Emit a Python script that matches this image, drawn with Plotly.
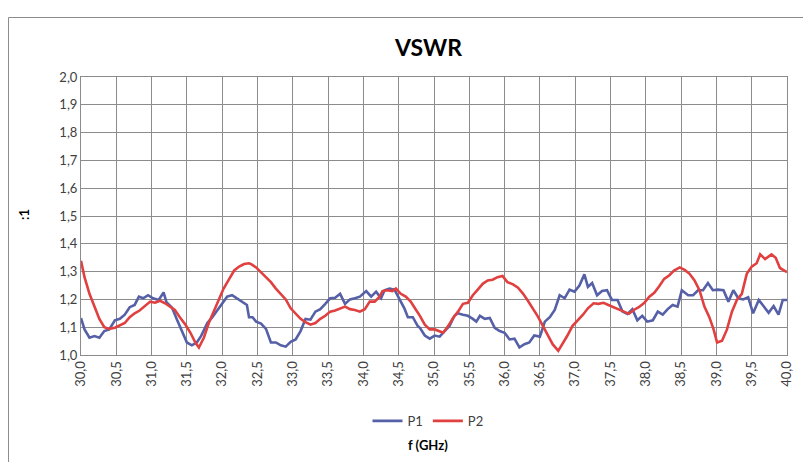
import plotly.graph_objects as go

# ---- data ----
freq_p1 = [30.00, 30.05, 30.12, 30.19, 30.26, 30.33, 30.40, 30.48, 30.55, 30.62, 30.69, 30.76, 30.82, 30.88,
           30.95, 31.02, 31.10, 31.17, 31.21, 31.29, 31.36, 31.43, 31.50, 31.57, 31.64, 31.70, 31.79, 31.86,
           31.93, 32.00, 32.07, 32.14, 32.21, 32.29, 32.35, 32.38, 32.43, 32.48, 32.55, 32.62, 32.69, 32.76,
           32.83, 32.90, 32.97, 33.04, 33.11, 33.18, 33.25, 33.32, 33.39, 33.46, 33.53, 33.60, 33.67, 33.74,
           33.81, 33.88, 33.95, 34.04, 34.11, 34.18, 34.25, 34.30, 34.37, 34.44, 34.51, 34.58, 34.63, 34.70,
           34.77, 34.80, 34.87, 34.94, 35.01, 35.08, 35.15, 35.22, 35.29, 35.34, 35.41, 35.48, 35.55, 35.60,
           35.65, 35.72, 35.79, 35.86, 35.93, 36.00, 36.07, 36.14, 36.21, 36.28, 36.35, 36.42, 36.50, 36.57,
           36.64, 36.71, 36.78, 36.85, 36.92, 36.99, 37.06, 37.13, 37.18, 37.24, 37.31, 37.38, 37.45, 37.52,
           37.60, 37.67, 37.74, 37.81, 37.88, 37.95, 38.02, 38.10, 38.17, 38.24, 38.31, 38.38, 38.45, 38.51,
           38.60, 38.67, 38.74, 38.81, 38.88, 38.95, 39.02, 39.10, 39.17, 39.24, 39.31, 39.38, 39.45, 39.52,
           39.60, 39.67, 39.74, 39.81, 39.88, 39.94, 40.00]
vswr_p1 = [1.133, 1.092, 1.062, 1.068, 1.062, 1.086, 1.092, 1.125, 1.130, 1.145, 1.172, 1.180, 1.210, 1.204,
           1.215, 1.204, 1.198, 1.225, 1.190, 1.170, 1.127, 1.086, 1.045, 1.035, 1.045, 1.068, 1.115, 1.136,
           1.162, 1.188, 1.210, 1.215, 1.204, 1.190, 1.180, 1.136, 1.136, 1.120, 1.113, 1.094, 1.045, 1.045,
           1.035, 1.030, 1.047, 1.056, 1.086, 1.130, 1.127, 1.156, 1.165, 1.184, 1.204, 1.206, 1.220, 1.184,
           1.200, 1.204, 1.210, 1.230, 1.210, 1.228, 1.204, 1.233, 1.239, 1.235, 1.204, 1.168, 1.136, 1.136,
           1.104, 1.098, 1.070, 1.059, 1.070, 1.066, 1.086, 1.104, 1.141, 1.150, 1.145, 1.141, 1.130, 1.120,
           1.141, 1.130, 1.133, 1.098, 1.086, 1.080, 1.056, 1.059, 1.027, 1.039, 1.045, 1.070, 1.066, 1.120,
           1.136, 1.162, 1.215, 1.204, 1.235, 1.228, 1.250, 1.290, 1.245, 1.259, 1.215, 1.230, 1.233, 1.198,
           1.198, 1.156, 1.148, 1.165, 1.125, 1.141, 1.120, 1.125, 1.156, 1.145, 1.165, 1.180, 1.174, 1.233,
           1.215, 1.215, 1.233, 1.233, 1.259, 1.233, 1.235, 1.233, 1.192, 1.233, 1.204, 1.200, 1.208, 1.150,
           1.198, 1.174, 1.152, 1.176, 1.145, 1.198, 1.198]

freq_p2 = [30.00, 30.05, 30.12, 30.19, 30.26, 30.33, 30.40, 30.48, 30.55, 30.62, 30.69, 30.76, 30.83, 30.90,
           30.98, 31.05, 31.12, 31.19, 31.26, 31.33, 31.40, 31.48, 31.55, 31.62, 31.67, 31.74, 31.81, 31.88,
           31.95, 32.02, 32.10, 32.17, 32.24, 32.31, 32.38, 32.41, 32.48, 32.55, 32.62, 32.69, 32.76, 32.83,
           32.90, 32.97, 33.04, 33.11, 33.18, 33.25, 33.32, 33.39, 33.46, 33.53, 33.60, 33.67, 33.74, 33.81,
           33.88, 33.95, 34.02, 34.09, 34.16, 34.23, 34.27, 34.34, 34.41, 34.46, 34.53, 34.60, 34.67, 34.73,
           34.80, 34.87, 34.94, 35.01, 35.08, 35.13, 35.20, 35.27, 35.34, 35.41, 35.48, 35.55, 35.62, 35.69,
           35.76, 35.83, 35.90, 35.97, 36.04, 36.12, 36.19, 36.26, 36.33, 36.40, 36.47, 36.54, 36.61, 36.68,
           36.76, 36.82, 36.89, 36.96, 37.04, 37.11, 37.18, 37.26, 37.33, 37.40, 37.47, 37.55, 37.62, 37.69,
           37.76, 37.83, 37.90, 37.98, 38.05, 38.12, 38.19, 38.26, 38.33, 38.40, 38.48, 38.55, 38.62, 38.69,
           38.76, 38.83, 38.90, 38.96, 39.01, 39.08, 39.15, 39.22, 39.29, 39.36, 39.43, 39.50, 39.57, 39.62,
           39.69, 39.78, 39.84, 39.90, 40.00]
vswr_p2 = [1.339, 1.280, 1.220, 1.174, 1.130, 1.100, 1.094, 1.098, 1.106, 1.115, 1.136, 1.150, 1.160, 1.176,
           1.192, 1.188, 1.195, 1.186, 1.174, 1.162, 1.136, 1.109, 1.080, 1.045, 1.027, 1.062, 1.115, 1.156,
           1.198, 1.239, 1.274, 1.304, 1.318, 1.327, 1.330, 1.327, 1.315, 1.298, 1.280, 1.262, 1.239, 1.220,
           1.200, 1.168, 1.150, 1.130, 1.118, 1.109, 1.115, 1.130, 1.141, 1.156, 1.160, 1.168, 1.174, 1.165,
           1.162, 1.156, 1.165, 1.192, 1.192, 1.210, 1.230, 1.233, 1.230, 1.239, 1.220, 1.210, 1.192, 1.168,
           1.141, 1.109, 1.092, 1.092, 1.086, 1.080, 1.104, 1.133, 1.156, 1.184, 1.188, 1.215, 1.235, 1.256,
           1.268, 1.271, 1.280, 1.284, 1.262, 1.254, 1.242, 1.221, 1.195, 1.168, 1.139, 1.106, 1.070, 1.039,
           1.015, 1.039, 1.070, 1.104, 1.125, 1.145, 1.168, 1.186, 1.184, 1.188, 1.180, 1.172, 1.165, 1.156,
           1.148, 1.162, 1.172, 1.188, 1.210, 1.224, 1.247, 1.274, 1.286, 1.304, 1.315, 1.306, 1.292, 1.268,
           1.233, 1.174, 1.136, 1.092, 1.045, 1.051, 1.092, 1.156, 1.198, 1.220, 1.292, 1.318, 1.330, 1.362,
           1.345, 1.362, 1.350, 1.313, 1.298]

x_ticks = [30 + 0.5 * i for i in range(21)]
y_ticks = [1.0 + 0.1 * i for i in range(11)]

FONT = "Lato"
GRID = "#8c8c8c"

fig = go.Figure()
fig.add_trace(go.Scatter(x=freq_p1, y=vswr_p1, mode="lines", name="P1",
                         line=dict(color="#5560A6", width=2.6)))
fig.add_trace(go.Scatter(x=freq_p2, y=vswr_p2, mode="lines", name="P2",
                         line=dict(color="#E0403F", width=2.6)))

fig.update_layout(
    width=803, height=454,
    margin=dict(l=73, r=24, t=69, b=107),
    paper_bgcolor="white", plot_bgcolor="white",
    separators=", ",
    font=dict(family=FONT, size=13, color="#404040"),
    showlegend=True,
    legend=dict(orientation="h", x=0.4915, xanchor="center", y=-0.237, yanchor="middle",
                font=dict(family=FONT, size=13, color="#404040"), itemwidth=30,
                bgcolor="rgba(0,0,0,0)"),
    xaxis=dict(range=[30, 40], tickvals=x_ticks, tickformat=".1f", tickangle=-90,
               showgrid=True, gridcolor=GRID, gridwidth=1, showline=True, linecolor=GRID,
               linewidth=1, mirror=True, ticks="", zeroline=False,
               tickfont=dict(family=FONT, size=13, color="#404040")),
    yaxis=dict(range=[1, 2], tickvals=y_ticks, tickformat=".1f",
               showgrid=True, gridcolor=GRID, gridwidth=1, showline=True, linecolor=GRID,
               linewidth=1, mirror=True, ticks="", zeroline=False,
               tickfont=dict(family=FONT, size=13, color="#404040")),
    shapes=[dict(type="rect", xref="paper", yref="paper", x0=-0.1027, x1=1.08, y0=-0.6, y1=1.214,
                 line=dict(color="#8c8c8c", width=1), fillcolor="rgba(0,0,0,0)", layer="below")],
    annotations=[
        dict(text="<b>VSWR</b>", xref="paper", yref="paper", x=0.4915, y=1.108,
             xanchor="center", yanchor="middle", showarrow=False,
             font=dict(family=FONT, size=23, color="#000000")),
        dict(text="<b>:1</b>", xref="paper", yref="paper", x=-0.0807, y=0.504,
             xanchor="center", yanchor="middle", showarrow=False, textangle=-90,
             font=dict(family=FONT, size=13, color="#000000")),
        dict(text="<b>f (GHz)</b>", xref="paper", yref="paper", x=0.4915, y=-0.324,
             xanchor="center", yanchor="middle", showarrow=False,
             font=dict(family=FONT, size=13, color="#000000")),
    ],
)

fig.write_html("out.html")
